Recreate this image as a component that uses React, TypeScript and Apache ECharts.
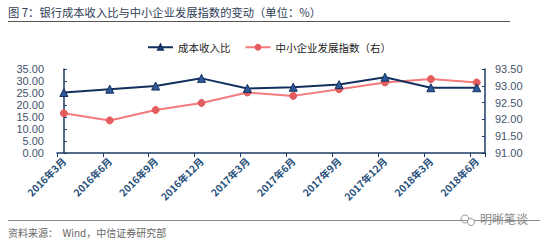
import React, { useEffect, useRef } from "react";
import * as echarts from "echarts";

const categories = [
  "2016年3月", "2016年6月", "2016年9月", "2016年12月", "2017年3月",
  "2017年6月", "2017年9月", "2017年12月", "2018年3月", "2018年6月",
];
const costIncome = [25.2, 26.6, 27.9, 31.1, 26.9, 27.4, 28.5, 31.6, 27.2, 27.2];
const smeIndex = [92.18, 91.97, 92.28, 92.49, 92.8, 92.7, 92.9, 93.1, 93.2, 93.1];
const leftTicks = { min: 0, max: 35, interval: 5 };
const rightTicks = { min: 91, max: 93.5, interval: 0.5 };
const seriesNames = ["成本收入比", "中小企业发展指数（右）"];

const NAVY = "#12305e";
const AXIS = "#1f3a64";
const LABEL = "#44546a";
const CJK = "'Noto Sans CJK SC', 'Liberation Sans', sans-serif";
const NUM = "'Liberation Sans', Arial, sans-serif";

// plot geometry
const G_LEFT = 57;
const G_RIGHT = 65;
const X_MIN = -0.15;
const X_MAX = 9.18;
const PLOT_W = 550 - G_LEFT - G_RIGHT;
const UNIT = PLOT_W / (X_MAX - X_MIN);
const L2 = G_LEFT + (0 - X_MIN) * UNIT;
const R2 = 550 - (L2 + 9 * UNIT);

export default function App() {
  const ref = useRef<HTMLDivElement>(null);
  useEffect(() => {
    if (!ref.current) return;
    const chart = echarts.init(ref.current, null, { renderer: "svg" });
    chart.setOption({
      animation: false,
      backgroundColor: "#ffffff",
      grid: [
        { left: G_LEFT, right: G_RIGHT, top: 69, bottom: 89, containLabel: false },
        { left: L2, right: R2, top: 69, bottom: 89, containLabel: false },
      ],
      legend: {
        left: 142,
        top: 37,
        itemWidth: 25,
        itemHeight: 6,
        itemGap: 14,
        textStyle: { fontSize: 10.5, color: "#222222", fontFamily: CJK },
        data: seriesNames,
      },
      xAxis: [
        {
          type: "value",
          gridIndex: 0,
          min: X_MIN,
          max: X_MAX,
          interval: 1,
          axisLine: { show: true, lineStyle: { color: AXIS, width: 1.5 } },
          axisTick: { show: true, length: 4, lineStyle: { color: AXIS } },
          splitLine: { show: false },
          axisLabel: { show: false },
        },
        {
          type: "category",
          gridIndex: 1,
          boundaryGap: false,
          data: categories,
          axisLine: { show: false },
          axisTick: { show: false },
          splitLine: { show: false },
          axisLabel: {
            interval: 0,
            rotate: 45,
            margin: 6,
            fontSize: 10,
            fontWeight: "bold",
            color: "#1f4e79",
            fontFamily: CJK,
          },
        },
      ],
      yAxis: [
        {
          type: "value",
          gridIndex: 0,
          ...leftTicks,
          axisLine: { show: true, lineStyle: { color: AXIS, width: 1.5 } },
          axisTick: { show: true, inside: true, length: 3, lineStyle: { color: AXIS } },
          splitLine: { show: false },
          axisLabel: {
            margin: 13,
            fontSize: 11,
            color: LABEL,
            fontFamily: NUM,
            formatter: (v: number) => v.toFixed(2),
          },
        },
        {
          type: "value",
          gridIndex: 0,
          ...rightTicks,
          position: "right",
          axisLine: { show: true, lineStyle: { color: AXIS, width: 1.5 } },
          axisTick: { show: true, inside: true, length: 3, lineStyle: { color: AXIS } },
          splitLine: { show: false },
          axisLabel: {
            margin: 10,
            fontSize: 11,
            color: LABEL,
            fontFamily: NUM,
            formatter: (v: number) => v.toFixed(2),
          },
        },
        {
          type: "value",
          gridIndex: 1,
          show: false,
          min: 0,
          max: 1,
        },
      ],
      series: [
        {
          name: seriesNames[0],
          type: "line",
          xAxisIndex: 0,
          yAxisIndex: 0,
          data: costIncome.map((v, i) => [i, v]),
          symbol: "triangle",
          symbolSize: 8,
          lineStyle: { color: NAVY, width: 2 },
          itemStyle: { color: "#2f5a9a", borderColor: NAVY, borderWidth: 1 },
          z: 3,
        },
        {
          name: seriesNames[1],
          type: "line",
          xAxisIndex: 0,
          yAxisIndex: 1,
          data: smeIndex.map((v, i) => [i, v]),
          symbol: "circle",
          symbolSize: 7,
          lineStyle: { color: "#f47a7c", width: 2 },
          itemStyle: { color: "#e35d5f", borderColor: "#e35d5f", borderWidth: 1 },
          z: 2,
        },
      ],
      graphic: [
        {
          type: "text",
          left: 8,
          top: 6,
          style: {
            text: "图 7：银行成本收入比与中小企业发展指数的变动（单位：%）",
            fontSize: 11.3,
            fill: "#2f3d55",
            fontFamily: CJK,
          },
        },
        {
          type: "line",
          shape: { x1: 8, y1: 21.5, x2: 510, y2: 21.5 },
          style: { stroke: "#555555", lineWidth: 1 },
        },
        {
          type: "line",
          shape: { x1: 8, y1: 220.5, x2: 540, y2: 220.5 },
          style: { stroke: "#8a8a8a", lineWidth: 1 },
        },
        {
          type: "text",
          left: 8,
          top: 227,
          style: {
            text: "资料来源：  Wind，中信证券研究部",
            fontSize: 10,
            fill: "#666666",
            fontFamily: CJK,
          },
        },
        {
          type: "circle",
          shape: { cx: 465, cy: 219, r: 4 },
          style: { fill: "none", stroke: "#9a9a9a", lineWidth: 1 },
        },
        {
          type: "circle",
          shape: { cx: 471, cy: 222, r: 3.5 },
          style: { fill: "#ffffff", stroke: "#9a9a9a", lineWidth: 1 },
        },
        {
          type: "text",
          left: 480,
          top: 212,
          style: {
            text: "明晰笔谈",
            fontSize: 12,
            fill: "#888888",
            fontFamily: CJK,
          },
        },
      ],
    });
    return () => chart.dispose();
  }, []);
  return (
    <div
      ref={ref}
      style={{ position: "fixed", left: 0, top: 0, width: 550, height: 242 }}
    />
  );
}
